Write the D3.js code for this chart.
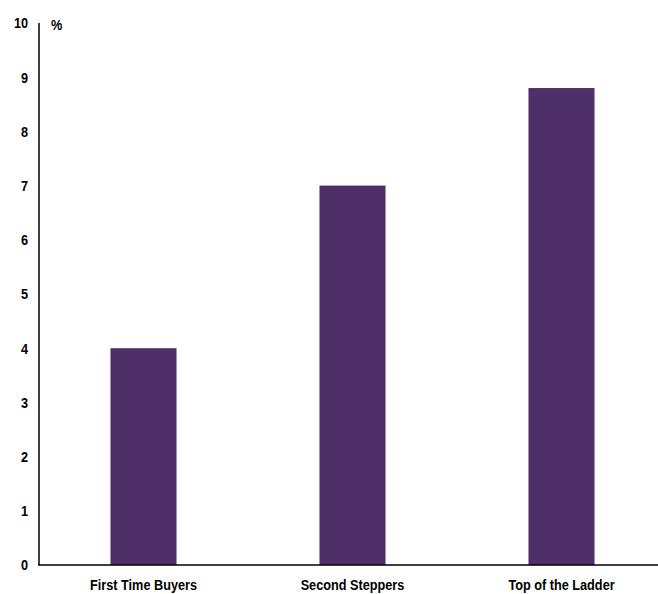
<!DOCTYPE html>
<meta charset="utf-8">
<style>
  body { margin: 0; background: #fff; }
  text {
    font-family: "Liberation Sans Narrow", "Arial Narrow", "Liberation Sans", Arial, sans-serif;
    font-weight: bold;
    fill: #000;
  }
  .bar { fill: #4e2f67; }
  .axis-line { stroke: #000; stroke-width: 1.5px; }
</style>
<body>
<script src="https://d3js.org/d3.v7.min.js"></script>
<script>

var categories = ["First Time Buyers", "Second Steppers", "Top of the Ladder"],
    values = [4.0, 7.0, 8.8],
    yTicks = [0, 1, 2, 3, 4, 5, 6, 7, 8, 9, 10];

var width = 658,
    height = 594,
    narrow = 0.82; // fake a condensed face, no Arial Narrow here

var x = d3.scaleBand()
    .domain(categories)
    .range([39, 666])
    .paddingInner(0.684)
    .paddingOuter(0.342);

var y = d3.scaleLinear()
    .domain([0, 10])
    .range([565, 23]);

var svg = d3.select("body").append("svg")
    .attr("width", width)
    .attr("height", height);

svg.selectAll(".bar")
    .data(values)
  .enter().append("rect")
    .attr("class", "bar")
    .attr("x", function(d, i) { return x(categories[i]); })
    .attr("width", x.bandwidth())
    .attr("y", function(d) { return y(d); })
    .attr("height", function(d) { return y(0) - y(d); });

// y axis
var yAxis = svg.append("g")
    .attr("transform", "translate(39,0)")
    .call(d3.axisLeft(y).tickValues(yTicks).tickSize(0));
yAxis.select(".domain").remove();
yAxis.selectAll("text")
    .style("font-size", "15.5px")
    .style("font-family", null)
    .attr("x", -11 / narrow)
    .attr("transform", "scale(" + narrow + ",1)");

svg.append("line")
    .attr("class", "axis-line")
    .attr("x1", 39).attr("x2", 39)
    .attr("y1", 23).attr("y2", 565);

// x axis
var xAxis = svg.append("g")
    .attr("transform", "translate(0,565)")
    .call(d3.axisBottom(x).tickSize(0).tickPadding(14));
xAxis.select(".domain").remove();
xAxis.selectAll("text")
    .style("font-size", "15.5px")
    .style("font-family", null)
    .attr("transform", "scale(" + narrow + ",1)");

svg.append("line")
    .attr("class", "axis-line")
    .attr("x1", 38).attr("x2", width)
    .attr("y1", 565).attr("y2", 565);

svg.append("text")
    .attr("transform", "translate(51,30) scale(" + narrow + ",1)")
    .style("font-size", "15.5px")
    .text("%");

</script>
</body>
